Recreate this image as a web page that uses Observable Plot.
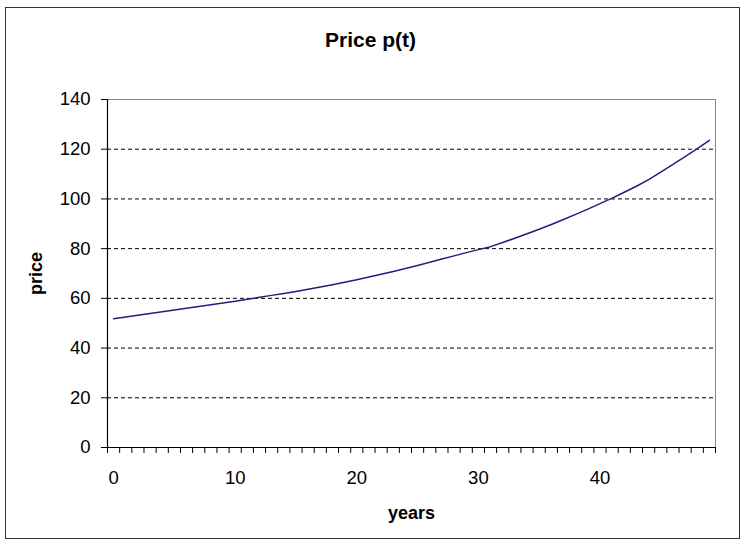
<!DOCTYPE html>
<html>
<head>
<meta charset="utf-8">
<script src="https://cdn.jsdelivr.net/npm/d3@7"></script>
<script src="https://cdn.jsdelivr.net/npm/@observablehq/plot@0.6"></script>
<style>
  html, body { margin: 0; padding: 0; background: #fff; }
  #wrap { position: relative; width: 743px; height: 542px; }
  #border { position: absolute; left: 5px; top: 7px; width: 733px; height: 530px; border: 1.5px solid #333; pointer-events: none; }
  #chart svg { display: block; }
</style>
</head>
<body>
<div id="wrap"><div id="chart"></div><div id="border"></div></div>
<script>
const years = [0,1,2,3,4,5,6,7,8,9,10,11,12,13,14,15,16,17,18,19,20,21,22,23,24,25,26,27,28,29,30,31,32,33,34,35,36,37,38,39,40,41,42,43,44,45,46,47,48,49];
const prices = [51.8,52.5,53.2,53.9,54.6,55.3,56.0,56.7,57.4,58.1,58.8,59.6,60.4,61.2,62.0,62.8,63.7,64.6,65.5,66.5,67.5,68.6,69.7,70.8,72.0,73.2,74.5,75.8,77.1,78.4,79.6,80.8,82.5,84.2,86.0,87.8,89.7,91.7,93.8,95.9,98.1,100.3,102.7,105.1,107.8,110.8,113.9,117.0,120.2,123.6];
const xTickLabels = [0,10,20,30,40];
const yTicks = [0,20,40,60,80,100,120,140];
const gridLines = [20,40,60,80,100,120];
const title = "Price p(t)";
const xLabel = "years";
const yLabel = "price";

const data = years.map((t, i) => ({t, p: prices[i]}));
const xDomain = [years[0] - 0.5, years[years.length - 1] + 0.5];
const boundaries = [...years.map(t => t - 0.5), years[years.length - 1] + 0.5];
const FONT = "'Liberation Sans', Arial, sans-serif";

const chart = Plot.plot({
  width: 743,
  height: 542,
  marginLeft: 107,
  marginRight: 28,
  marginTop: 99,
  marginBottom: 95,
  style: {fontFamily: FONT, background: "#fff", color: "#000"},
  x: {domain: xDomain},
  y: {domain: [yTicks[0], yTicks[yTicks.length - 1]]},
  marks: [
    Plot.gridY(gridLines, {stroke: "#000", strokeOpacity: 1, strokeDasharray: "4,3", strokeWidth: 1}),
    Plot.frame({stroke: "#888", strokeWidth: 1}),
    Plot.ruleX([xDomain[0]], {stroke: "#000", strokeWidth: 1.2}),
    Plot.ruleY([yTicks[0]], {stroke: "#000", strokeWidth: 1.2}),
    Plot.axisY(yTicks, {tickSize: 6, tickPadding: 11, fontSize: 18.5, label: null, stroke: "#000"}),
    Plot.axisX(boundaries, {tickSize: 6, tickFormat: () => "", label: null, stroke: "#000"}),
    Plot.axisX(xTickLabels, {tickSize: 0, tickPadding: 23, fontSize: 18.5, label: null}),
    Plot.line(data, {x: "t", y: "p", stroke: "#20207a", strokeWidth: 1.5}),
    Plot.text([title], {frameAnchor: "top", dx: -41, dy: -59, fontSize: 21, fontWeight: "bold", lineAnchor: "middle"}),
    Plot.text([xLabel], {frameAnchor: "bottom", dy: 66, fontSize: 18, fontWeight: "bold", lineAnchor: "middle"}),
    Plot.text([yLabel], {frameAnchor: "left", dx: -71, dy: 0, rotate: -90, textAnchor: "middle", fontSize: 18, fontWeight: "bold", lineAnchor: "middle"})
  ]
});
document.getElementById("chart").appendChild(chart);
</script>
</body>
</html>
